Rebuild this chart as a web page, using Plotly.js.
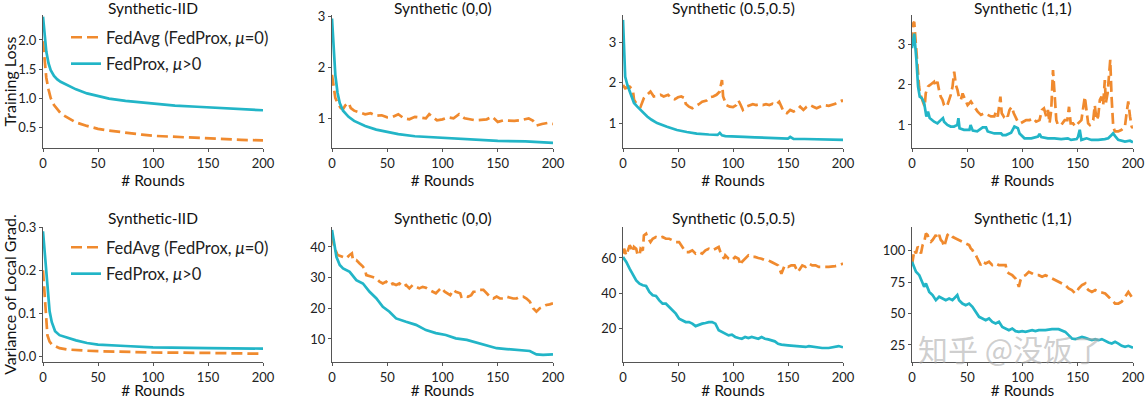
<!DOCTYPE html>
<html><head><meta charset="utf-8">
<script src="https://cdn.plot.ly/plotly-3.0.1.min.js"></script>
<style>html,body{margin:0;padding:0;background:#fff}#chart{width:1147px;height:399px}</style>
</head><body><div id="chart"></div>
<script>
// ---------- DATA ----------
const panelTitles = ["Synthetic-IID","Synthetic (0,0)","Synthetic (0.5,0.5)","Synthetic (1,1)",
                     "Synthetic-IID","Synthetic (0,0)","Synthetic (0.5,0.5)","Synthetic (1,1)"];
const seriesNames = ["FedAvg (FedProx, <i>μ</i>=0)", "FedProx, <i>μ</i>>0"];
const xTickVals = [0,50,100,150,200];
const yTickVals = [[0.5,1.0,1.5,2.0],[1,2,3],[1,2,3],[1,2,3],[0.0,0.1,0.2,0.3],[10,20,30,40],[20,40,60],[25,50,75,100]];
const yTickText = [["0.5","1.0","1.5","2.0"],["1","2","3"],["1","2","3"],["1","2","3"],["0.0","0.1","0.2","0.3"],["10","20","30","40"],["20","40","60"],["25","50","75","100"]];
const yRanges = [[0.14,2.43],[0.42,3.02],[0.41,3.66],[0.43,3.72],[-0.012,0.30],[2.5,46.5],[0.6,77.7],[11.4,119]];
const yTitles = ["Training Loss","","","","Variance of Local Grad.","","",""];

// Training loss, Synthetic-IID
const lossIidRounds = [0,1,2,3,5,7,10,13,16,20,25,30,40,50,60,75,90,100,120,140,160,180,200];
const lossIidProx = [2.40,2.15,1.95,1.80,1.60,1.48,1.38,1.32,1.28,1.24,1.19,1.15,1.08,1.03,0.99,0.95,0.92,0.90,0.87,0.85,0.83,0.81,0.79];
const lossIidAvg  = [1.98,1.75,1.55,1.35,1.15,1.00,0.88,0.80,0.74,0.69,0.63,0.58,0.52,0.47,0.44,0.40,0.37,0.35,0.33,0.31,0.30,0.28,0.27];

// Training loss, Synthetic (0,0)
const loss00ProxRounds = [0,1,2,3,5,7,10,15,20,30,40,50,60,75,100,125,150,175,200];
const loss00Prox = [2.95,2.55,2.15,1.85,1.5,1.3,1.15,1.03,0.95,0.85,0.78,0.73,0.69,0.65,0.62,0.59,0.56,0.55,0.52];
const loss00AvgRounds = [0,2,3,5,8,10,12,15,17,20,25,30,35,40,45,50,55,60,65,70,75,80,85,88,92,95,100,105,110,115,120,125,130,135,140,145,150,155,160,165,170,175,178,182,185,190,195,200];
const loss00Avg = [1.85,1.6,1.4,1.3,1.2,1.18,1.25,1.3,1.2,1.15,1.12,1.08,1.1,1.05,1.06,1.02,1.03,1.08,1.0,0.98,1.03,1.02,1.0,1.08,1.02,0.96,0.98,1.02,1.0,1.08,1.0,0.98,0.96,0.97,0.98,1.03,0.93,0.96,0.95,0.95,0.96,0.98,1.0,0.95,0.86,0.89,0.91,0.89];

// Training loss, Synthetic (0.5,0.5)
const loss55ProxRounds = [0,1,2,4,6,10,13,16,22,26,31,40,49,58,67,78,86,88,90,93,98,110,120,130,140,150,152,155,165,175,188,200];
const loss55Prox = [3.54,2.8,2.15,1.95,1.79,1.51,1.42,1.34,1.18,1.1,1.02,0.93,0.85,0.8,0.76,0.74,0.73,0.78,0.72,0.70,0.69,0.68,0.67,0.66,0.65,0.64,0.68,0.63,0.63,0.62,0.61,0.61];
const loss55AvgRounds = [0,2,6,9,10,13,16,19,22,25,28,31,34,37,41,44,47,50,53,56,57,60,63,66,69,72,76,79,82,85,88,89,90,91,94,97,100,103,105,107,109,112,115,118,121,124,127,130,133,136,139,142,144,146,149,152,155,158,161,164,167,170,173,176,179,182,187,190,193,196,199,200];
const loss55Avg = [1.95,1.87,1.91,1.83,1.59,1.46,1.42,1.63,1.71,1.79,1.67,1.68,1.71,1.67,1.71,1.63,1.60,1.65,1.67,1.63,1.49,1.42,1.38,1.42,1.48,1.54,1.57,1.65,1.67,1.71,1.79,1.95,2.07,1.67,1.46,1.42,1.41,1.46,1.57,1.46,1.34,1.42,1.46,1.48,1.46,1.48,1.46,1.48,1.46,1.49,1.46,1.54,1.42,1.30,1.26,1.34,1.30,1.34,1.42,1.34,1.42,1.46,1.42,1.38,1.42,1.46,1.44,1.46,1.49,1.54,1.57,1.54];

// Training loss, Synthetic (1,1)
const loss11ProxRounds = [0,2,4,5.5,7,9,11,12,13,14.5,16,20,23,26,28,29,32,35,38,41,42,43,47,52,53,55,59,64,67,68.5,74.5,80.6,82,85,89.7,92.7,95.8,97.3,101.8,108,114,115.4,117,123,129,135,141,144,149,150.3,151.8,153.3,158,162.4,168.5,174.5,177.6,180.6,182,184.2,186.6,192.7,197.3,200];
const loss11Prox = [2.9,3.26,2.61,1.95,1.70,1.66,1.54,1.37,1.21,1.33,1.17,1.08,1.04,1.12,1.17,1.08,1.00,0.96,0.96,1.00,1.17,0.92,0.88,0.88,1.00,0.86,0.84,0.94,0.94,0.84,0.79,0.79,0.75,0.75,0.81,0.96,0.92,0.79,0.67,0.67,0.71,0.78,0.70,0.67,0.67,0.65,0.67,0.63,0.65,0.71,0.88,0.63,0.67,0.63,0.63,0.65,0.67,0.75,0.79,0.71,0.63,0.59,0.61,0.57];
const loss11AvgRounds = [0,1,2,3,4,5.5,6.4,7.3,8.5,10.3,11.5,12.4,13.3,14.5,16.4,18.5,20,21.5,23,24.5,26,27.6,29,30.6,32,33.6,35,36.7,38.2,39.7,41.2,42.7,44.2,45.8,47.3,48.8,50.3,51.8,53.3,56.4,59.4,62.4,65.5,68.5,71.5,74.5,76,77.6,80,81.2,83,85,86.7,88.2,90.3,92.1,94.2,95.7,98.2,100.3,103.3,106.4,109.4,112.4,115.4,117.6,119.4,121.5,123,124.5,126,127.6,129,130.6,132.1,135.1,138.2,140.6,142.1,143.6,145.7,147.9,150.3,153.3,156.4,157.9,159.4,160.9,164,165.4,167,168.5,170,171.5,173,174.5,175.4,177,178.2,179.4,180.6,182.1,183.6,186.6,189.7,192.7,194.2,195.7,197.3,198.8,200];
const loss11Avg = [3.02,3.51,3.55,3.18,2.61,2.19,1.95,1.78,1.66,1.54,1.45,1.78,1.86,1.95,1.99,2.03,2.07,1.95,2.07,1.86,1.70,1.62,1.49,1.45,1.49,1.62,1.74,1.95,2.32,1.99,1.86,1.66,1.62,1.78,1.70,1.58,1.49,1.54,1.58,1.45,1.33,1.25,1.29,1.25,1.21,1.21,1.33,1.21,1.70,1.29,1.21,1.29,1.21,1.37,1.45,1.29,1.17,1.08,1.04,1.08,1.12,1.12,1.17,1.08,1.12,1.37,1.41,1.21,1.37,1.04,1.37,2.36,1.70,1.12,1.00,1.00,1.12,1.12,1.45,1.04,1.04,0.96,1.04,1.12,1.70,1.29,1.04,1.00,1.12,1.49,1.12,1.21,1.62,1.70,1.49,2.11,1.54,1.78,2.28,2.61,1.70,0.96,0.84,0.84,0.88,0.96,1.29,1.58,1.21,0.96,0.92];

// Variance of local gradients, Synthetic-IID
const varIidRounds = [0,1,2,3,4,6,8,11,15,22,30,40,50,75,100,150,200];
const varIidProx = [0.29,0.26,0.23,0.197,0.16,0.105,0.08,0.059,0.05,0.044,0.038,0.032,0.028,0.025,0.022,0.020,0.019];
const varIidAvg  = [0.20,0.16,0.11,0.07,0.05,0.035,0.029,0.025,0.020,0.017,0.015,0.014,0.013,0.011,0.010,0.009,0.007];

// Variance, Synthetic (0,0)
const var00ProxRounds = [0,2,4,7,10,16,22,28,34,40,46,52,58,67,76,85,94,103,112,122,131,143,149,158,173,179,185,191,200];
const var00Prox = [45.5,40.6,36.8,34.1,33,31.9,29.2,28.1,25.4,23.3,20.5,18.9,16.7,15.6,14.6,12.9,11.9,11.3,10.2,9.7,8.8,7.5,7.0,6.7,6.4,6.1,5.0,4.8,5.0];
const var00AvgRounds = [0,2,5,10,13,16,18,19,22,25,28,30,31,36,40,43,46,49,52,55,58,61,64,67,70,73,76,79,82,85,88,91,94,97,99,102,104,107,110,112,116,117,120,123,126,128,131,134,137,140,143,146,149,152,155,158,161,164,167,170,173,176,179,182,185,188,191,194,197,200];
const var00Avg = [44,40,37.4,36.8,36.3,37.4,37.9,35.7,35.7,34.6,33.6,32.5,30.8,30.3,29.8,28.7,28.1,28.7,27.6,28.1,27.6,28.1,27.0,27.6,26.5,27.6,27.0,26.5,27.0,26.7,26.0,25.4,24.9,26.0,26.7,25.4,24.9,24.3,26.0,25.4,24.9,23.8,24.3,23.8,24.3,25.4,25.4,26.0,26.0,24.9,23.8,23.2,23.8,23.2,23.2,23.8,23.5,23.2,23.2,23.8,23.8,23.2,22.2,20.0,18.9,20.0,20.5,21.1,21.3,21.6];

// Variance, Synthetic (0.5,0.5)
const var55ProxRounds = [0,3,6,9,12,15,18,21,24,27,30,33,36,39,42,45,48,51,54,57,60,63,66,69,72,75,78,81,84,87,90,93,96,99,102,105,108,111,114,117,120,123,126,129,132,135,138,141,144,150,157,163,166,169,175,181,187,193,196,200];
const var55Prox = [60.6,57.7,53.9,50.1,47.2,45.3,44.4,44,40.6,38.7,38.3,35.8,33.9,33.9,32,30.1,28.2,25.3,24.4,23.4,23.4,22.5,21.1,21.9,22.5,22.9,23.4,23.4,22.5,18.7,17.7,16.8,15.8,16.2,14.9,14.3,13.9,14.9,14.3,14.9,14.3,13.9,14.9,13.9,13.5,13,12.4,11,10.5,10.1,9.7,9.7,9.2,9.7,9.2,8.6,8.6,9.2,9.7,9];
const var55AvgRounds = [0,1,3,6,7,9,10,12,13,15,16,18,19,21,22,24,25,27,30,33,36,39,42,45,48,51,54,57,60,63,66,69,72,75,78,81,84,87,89,90,92,93,96,99,102,105,107,108,111,114,117,120,123,126,129,132,135,138,141,144,146,147,150,153,156,159,161,163,166,169,172,175,178,181,187,193,196,200];
const var55Avg = [62.5,65.3,61.5,67.2,66.3,63.4,66.3,65.3,62.5,61.5,65.3,64.4,72.9,73.9,72,70.1,69.1,71,72,71.4,72,71,71,70.1,69.1,69.1,66.3,63.4,63.4,64.4,62.5,63.4,62.5,64.4,65.3,64.4,65.3,66.3,62.5,61.5,59.6,61.5,59.6,58.7,60.6,59.6,55.8,57.7,59.6,61.5,60.6,60.6,60,59.6,58.7,58.7,57.7,56.8,55.8,51.0,53.9,55.8,54.9,55.8,55.8,52.0,53.9,55.8,54.9,56.8,55.8,55.8,54.9,54.9,54.9,55.4,55.8,56.8];

// Variance, Synthetic (1,1)
const var11ProxRounds = [0,2,3.6,6.6,9.6,11,12.6,14,15.6,18.6,21.6,24.6,27.6,30.6,33.6,36.6,39.6,41,42.6,45.6,48.6,51.7,54.7,57.7,60.7,63.7,66.7,69.7,72.7,75.7,78.7,81.7,84.7,87.7,90.7,93.7,96.7,99.7,102.7,105.7,108.7,111.7,114.7,120.7,126.7,132.7,135.7,138.7,141.7,144.7,147.7,150.8,153.8,156.8,159.8,162.8,165.8,168.8,171.8,174.8,177.8,180.8,183.8,186.8,189.8,192.8,195.8,200];
const var11Prox = [91.3,87.3,83.3,80.6,74,71.3,74,71.3,67.3,64.7,60.7,63.4,62,60.7,62,60.7,63.4,64.7,60.7,58,56.7,58,55.4,51.4,47.4,46.1,44.7,46.1,43.4,42.1,43.4,39.4,38.1,36.8,38.1,36,35.4,36,35.4,36,36.8,36,36.8,36.8,37.6,37.6,36.8,35.4,32.8,30.1,29.6,30.6,31.4,30.6,29.6,28.8,29.6,28.8,29.6,28,26.9,26.1,27.5,26.1,24.3,23.5,24.3,22.7];
const var11AvgRounds = [0,1.2,2.1,3.6,5.1,6.6,8.1,9.6,11.1,12.6,14.1,15.6,17.1,18.6,21.6,23.1,24.6,26.1,27.6,29.1,30.6,32.1,33.6,36.6,39.6,42.6,45.6,48.6,51.7,53.2,54.7,56.2,57.7,59.2,60.7,62.2,63.7,66.7,69.7,72.7,75.7,78.7,81.7,84.7,86.2,87.7,90.7,93.7,95.2,96.7,98.2,99.7,102.7,105.7,108.7,111.7,114.7,117.7,120.7,123.7,126.7,129.7,132.7,135.7,138.7,141.7,144.7,147.7,149.2,150.8,153.8,156.8,158.3,159.8,162.8,165.8,168.8,171.8,174.8,177.8,180.8,183.8,186.8,189.8,192.8,195.8,198.8,200];
const var11Avg = [88.6,96.6,100.6,97.9,103.3,101.9,97.9,104.6,107.2,113.9,112.6,108.6,107.2,108.6,112.6,109.9,112.6,108.6,107.2,103.3,107.2,112.6,113.9,111.2,109.9,108.6,107.2,105.9,104.6,101.9,100.6,97.9,96.6,93.9,91.3,88.6,91.3,90,91.3,88.6,90,88.6,88.6,88.6,83.3,82,80.6,78,75.3,71.3,76.7,79.3,80.6,83.3,82,80.6,80.6,79.3,80.6,79.3,78,76.7,75.3,74,72.7,70,68.7,66,67.3,70,72.7,74,70,68.7,67.3,68.7,67.3,66.8,66,63.4,60.7,58,58,59.4,63.4,67.3,63.4,60.7];

const panelData = [
  [lossIidRounds, lossIidAvg, lossIidRounds, lossIidProx],
  [loss00AvgRounds, loss00Avg, loss00ProxRounds, loss00Prox],
  [loss55AvgRounds, loss55Avg, loss55ProxRounds, loss55Prox],
  [loss11AvgRounds, loss11Avg, loss11ProxRounds, loss11Prox],
  [varIidRounds, varIidAvg, varIidRounds, varIidProx],
  [var00AvgRounds, var00Avg, var00ProxRounds, var00Prox],
  [var55AvgRounds, var55Avg, var55ProxRounds, var55Prox],
  [var11AvgRounds, var11Avg, var11ProxRounds, var11Prox]
];

// ---------- LAYOUT / STYLE ----------
const W = 1147, H = 399;
const ORANGE = '#f08a2e', TEAL = '#22b5c7';
const FONT = 'Lato, "Open Sans", sans-serif';
const colPx = [[43,263],[332,553],[623,843],[912,1133]];
const rowPx = [[15,148],[227,362]];
const titleYpx = [8, 218];

const traces = [];
const legendCommon = {xanchor:'left', yanchor:'top', bgcolor:'rgba(0,0,0,0)',
           font:{size:16.5, color:'#222', family: FONT}, tracegroupgap: 2};
const layout = {
  width: W, height: H,
  margin: {l:0, r:0, t:0, b:0},
  paper_bgcolor: '#fff', plot_bgcolor: '#fff',
  font: {family: FONT, color: '#222', size: 13},
  annotations: [],
  legend: Object.assign({x: 66/W, y: 1-20/H}, legendCommon),
  legend2: Object.assign({x: 66/W, y: 1-230/H}, legendCommon)
};

for (let i = 0; i < 8; i++) {
  const row = Math.floor(i/4), col = i % 4;
  const sfx = i === 0 ? '' : String(i+1);
  const [xa, ya, xb, yb] = panelData[i];
  const legendName = row === 0 ? 'legend' : 'legend2';
  const showL = (col === 0);
  traces.push({x: xa, y: ya, type:'scatter', mode:'lines', name: seriesNames[0],
    line:{color: ORANGE, width: 2.7, dash: '11px,5px'},
    xaxis:'x'+sfx, yaxis:'y'+sfx, showlegend: showL, legend: legendName, legendgroup: 'a'+i});
  traces.push({x: xb, y: yb, type:'scatter', mode:'lines', name: seriesNames[1],
    line:{color: TEAL, width: 2.7},
    xaxis:'x'+sfx, yaxis:'y'+sfx, showlegend: showL, legend: legendName, legendgroup: 'b'+i});

  const axCommon = {showgrid:false, zeroline:false, showline:true, linecolor:'#555', linewidth:1,
    ticks:'outside', ticklen:3, tickcolor:'#555', tickfont:{size:13, color:'#222', family: FONT}};
  layout['xaxis'+sfx] = Object.assign({}, axCommon, {
    domain:[colPx[col][0]/W, colPx[col][1]/W], range:[0,200], anchor:'y'+sfx,
    tickvals: xTickVals, ticktext: xTickVals.map(String),
    title:{text:'# Rounds', font:{size:15.5, color:'#111', family: FONT}, standoff: 1}
  });
  layout['yaxis'+sfx] = Object.assign({}, axCommon, {
    domain:[1-rowPx[row][1]/H, 1-rowPx[row][0]/H], range: yRanges[i], anchor:'x'+sfx,
    tickvals: yTickVals[i], ticktext: yTickText[i],
    title: {text: yTitles[i], font:{size:16, color:'#111', family: FONT}, standoff: 2}
  });
  layout.annotations.push({text: panelTitles[i], xref:'paper', yref:'paper',
    x: (colPx[col][0]+colPx[col][1])/2/W, y: 1-titleYpx[row]/H, xanchor:'center', yanchor:'middle',
    showarrow:false, font:{size:15.5, color:'#111', family: FONT}});
}
// watermark
layout.annotations.push({text:'知乎 @没饭了', xref:'paper', yref:'paper', x:1010/W, y:1-348/H,
  xanchor:'center', yanchor:'middle', showarrow:false,
  font:{size:30, color:'rgba(165,165,165,0.55)', family:'"Noto Sans CJK SC", sans-serif'}});

Plotly.newPlot('chart', traces, layout, {displayModeBar:false, staticPlot:true});
</script></body></html>
